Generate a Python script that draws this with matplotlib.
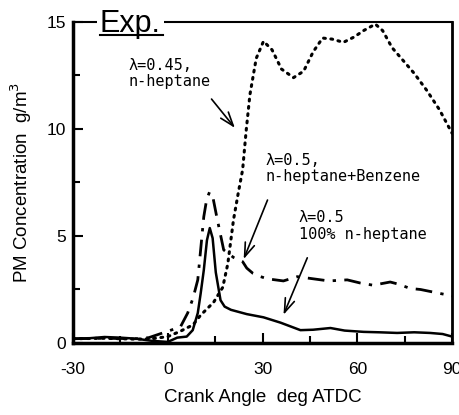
import numpy as np
import matplotlib.pyplot as plt
from matplotlib.lines import Line2D

plt.rcParams['axes.unicode_minus'] = False

# lambda=0.45, n-heptane (dotted)
ang_045 = [-30, -20, -10, -5, 0, 4, 8, 10.4, 14.5, 17.4, 19, 20.8, 22.3, 23.7, 24.8, 26, 28, 30.3, 33, 36, 39.8, 43, 46, 49, 52, 55.6, 59, 62, 65.7, 68, 71, 74.5, 78, 82, 86, 90]
pm_045 = [0.2, 0.22, 0.18, 0.2, 0.3, 0.55, 0.85, 1.3, 1.9, 2.6, 3.7, 5.75, 7.0, 8.1, 9.9, 11.6, 13.3, 14.1, 13.7, 12.8, 12.4, 12.7, 13.6, 14.25, 14.2, 14.05, 14.3, 14.6, 14.9, 14.6, 13.8, 13.2, 12.6, 11.8, 10.9, 9.8]

# lambda=0.5, n-heptane+Benzene (dash-dot)
ang_bz = [-30, -20, -10, -6, -3, 0, 4, 6.3, 8, 9.5, 11.4, 12.3, 13.2, 14.3, 15.5, 17.7, 20.8, 23.7, 25, 27, 29.4, 31.5, 36.6, 41, 46, 51, 56.8, 61, 65, 70.4, 73, 76.7, 80, 85, 90]
pm_bz = [0.2, 0.22, 0.2, 0.25, 0.4, 0.55, 0.75, 1.4, 2.1, 2.95, 5.9, 6.7, 7.05, 6.8, 5.9, 4.35, 4.0, 3.8, 3.5, 3.25, 3.1, 3.0, 2.9, 3.1, 3.0, 2.9, 2.95, 2.8, 2.7, 2.85, 2.75, 2.55, 2.5, 2.35, 2.2]

# lambda=0.5, 100% n-heptane (solid)
ang_hp = [-30, -25, -20, -15, -10, -5, 0, 3, 6, 7.9, 9.5, 10.4, 11.4, 12.4, 13.3, 14.2, 15.2, 16.7, 18, 20, 25, 30.3, 35.7, 42, 46, 51.5, 56, 62, 67, 72.6, 78, 83, 87, 90]
pm_hp = [0.2, 0.22, 0.28, 0.25, 0.2, 0.1, 0.05, 0.25, 0.3, 0.6, 1.4, 2.3, 3.4, 4.8, 5.37, 4.9, 3.3, 2.0, 1.7, 1.55, 1.35, 1.2, 0.95, 0.6, 0.62, 0.7, 0.58, 0.52, 0.5, 0.47, 0.5, 0.47, 0.42, 0.3]

x_ticks = [-30, 0, 30, 60, 90]
y_ticks = [0, 5, 10, 15]

fig = plt.figure(figsize=(4.59, 4.15), dpi=100)
ax = fig.add_axes([0.159, 0.1735, 0.826, 0.7735])

ax.plot(ang_045, pm_045, color='black', lw=2.2, linestyle=(0, (0.6, 1.8)), dash_capstyle='round')
ax.plot(ang_bz, pm_bz, color='black', lw=2.0, linestyle=(0, (6, 3, 1.2, 3)))
ax.plot(ang_hp, pm_hp, color='black', lw=1.8)

ax.set_xlim(-30, 90)
ax.set_ylim(0, 15)
ax.set_xticks(x_ticks)
ax.set_yticks(y_ticks)
ax.set_xticks([-15, 15, 45, 75], minor=True)
ax.set_yticks([2.5, 7.5, 12.5], minor=True)
ax.tick_params(which='both', direction='in', width=1.5, labelsize=12.5, pad=14)
ax.tick_params(which='major', length=7)
ax.tick_params(which='minor', length=5)
ax.tick_params(axis='y', pad=5)
for lab in ax.get_xticklabels() + ax.get_yticklabels():
    lab.set_fontfamily('Liberation Sans')

ax.spines['left'].set_linewidth(2.5)
ax.spines['bottom'].set_linewidth(2.5)
ax.spines['right'].set_linewidth(2)
ax.spines['top'].set_linewidth(1.5)

ax.set_xlabel('Crank Angle  deg ATDC', fontsize=13.5, family='Liberation Sans', labelpad=8)
ax.set_ylabel('PM Concentration  g/m$^3$', fontsize=13.5, family='Liberation Sans', labelpad=9)

mono = ['DejaVu Sans Mono']
arrow = dict(arrowstyle='->,head_length=1.0,head_width=0.35', color='black', lw=1.2)
ax.text(-12.3, 13.3, 'λ=0.45,\nn-heptane', fontsize=11, family=mono, va='top', linespacing=1.05)
ax.annotate('', xy=(21.8, 9.95), xytext=(13.3, 11.5), arrowprops=arrow)
ax.text(31, 8.9, 'λ=0.5,\nn-heptane+Benzene', fontsize=11, family=mono, va='top', linespacing=1.15)
ax.annotate('', xy=(23.7, 3.8), xytext=(31.9, 6.8), arrowprops=arrow)
ax.text(41.4, 6.2, 'λ=0.5\n100% n-heptane', fontsize=11, family=mono, va='top', linespacing=1.1)
ax.annotate('', xy=(36.3, 1.2), xytext=(44.5, 4.1), arrowprops=arrow)

fig.text(100 / 459, 1 - 32 / 415, 'Exp.', fontsize=22, family='Liberation Sans', va='baseline',
         bbox=dict(facecolor='white', edgecolor='none', pad=2), zorder=4)
fig.add_artist(Line2D([100 / 459, 163 / 459], [1 - 35 / 415, 1 - 35 / 415], color='black', lw=1.5, zorder=5))

fig.savefig('out.png', dpi=100)
